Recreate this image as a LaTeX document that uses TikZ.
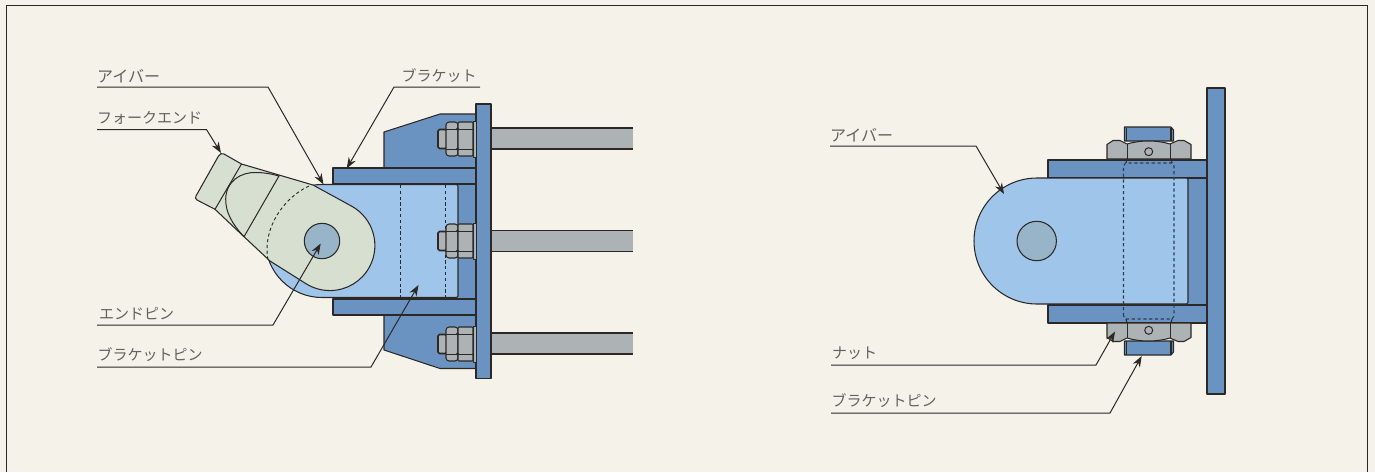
\documentclass[tikz,border=0pt]{standalone}
\usepackage{fontspec}
\newfontfamily\jpf{Noto Sans CJK JP}
\usetikzlibrary{arrows.meta}
\definecolor{bgc}{HTML}{F5F2EA}
\definecolor{ink}{HTML}{2B2826}
\definecolor{bracketc}{HTML}{6B93C2}
\definecolor{eyec}{HTML}{9FC5EA}
\definecolor{forkc}{HTML}{D7DFD0}
\definecolor{steelc}{HTML}{ADB3B5}
\definecolor{pinc}{HTML}{97B4C8}
\definecolor{txtc}{HTML}{65625D}
\definecolor{hidc}{HTML}{2E3C52}
\tikzset{
  part/.style={draw=ink,line width=1.05pt,line join=round},
  blue part/.style={part,fill=bracketc},
  eye part/.style={part,fill=eyec},
  fork part/.style={part,fill=forkc},
  steel part/.style={part,fill=steelc},
  pin part/.style={part,fill=pinc},
  thin part/.style={draw=ink,line width=1pt},
  hidden/.style={draw=ink,line width=.9pt,dash pattern=on 3.2pt off 2.6pt},
  lbl/.style={font=\jpf\fontsize{15}{15}\selectfont,text=txtc,inner sep=0pt,anchor=south west},
  lblw/.style={lbl,font=\jpf\fontsize{16}{16}\selectfont},
  lead/.style={draw=ink,line width=1pt,-{Stealth[length=11pt,width=8pt]}},
  boltL/.pic={
    \path[steel part,rounded corners=1.5pt,line width=1.6pt] (438,-9.5) rectangle (447,9.5);
    \path[steel part,rounded corners=3pt] (446,-17) rectangle (458,17);
    \path[steel part,rounded corners=1pt] (458,-17) rectangle (473,17);
    \draw[thin part] (446,-10) -- (473,-10) (446,10) -- (473,10);
    \fill[ink] (457.5,-10) circle (1.6) (457.5,10) circle (1.6);
    \path[steel part,line width=.8pt] (473,-18) rectangle (476,18);
  },
  rodL/.pic={
    \fill[steelc] (491,-10.5) rectangle (633,10.5);
    \draw[part] (491,-10.5) -- (633,-10.5) (491,10.5) -- (633,10.5);
  },
  nutR/.pic={
    \path[blue part] (1124.5,-114) -- (1171,-114) -- (1173.5,-111) -- (1173.5,-100) -- (1124.5,-100) -- (1124.5,-111) -- cycle;
    \draw[draw=ink,line width=1.2pt] (1126.5,-113.5) -- (1126.5,-100) (1171,-113.5) -- (1171,-100);
    \path[steel part] (1107,-82) -- (1107,-96.5) -- (1113,-100.5) -- (1120,-100.5) -- (1127,-97)
      .. controls (1140,-101) and (1157,-101) .. (1170,-97) -- (1178,-100.5) -- (1184,-100.5) -- (1191,-96.5) -- (1191,-82) -- cycle;
    \draw[thin part] (1127,-97) -- (1127,-82) (1170,-97) -- (1170,-82);
    \draw[thin part] (1148.7,-89.3) circle (4);
    \draw[thin part] (1127,-82) -- (1126,-78) (1171,-82) -- (1172,-78);
  },
}
\begin{document}
\begin{tikzpicture}[x=1pt,y=-1pt]
\useasboundingbox (0,0) rectangle (1375,472);
\fill[bgc] (0,0) rectangle (1375,472);
\draw[ink,line width=1pt] (6,472) -- (6,5) -- (1367.5,5) -- (1367.5,472);

% ---- left view
\pic at (0,138.5) {rodL};
\pic at (0,241) {rodL};
\pic at (0,343.5) {rodL};
\path[blue part] (384,168) -- (384,132) -- (440,114) -- (476,114) -- (476,168) -- cycle;
\path[blue part] (384,315) -- (384,350) -- (440,368.5) -- (476,368.5) -- (476,315) -- cycle;
\path[blue part] (440,184) rectangle (476,299);
\path[blue part] (333,168) rectangle (476,184);
\path[blue part] (333,299) rectangle (476,315);
\path[eye part] (322,297.5) arc[start angle=90,end angle=270,radius=56.5]
  -- (456.5,184.5) -- (458,186) -- (458,296) -- (456.5,297.5) -- cycle;
\path[hidden] (400.5,185) -- (400.5,297) (445.5,185) -- (445.5,297);
\path[blue part] (476,104) rectangle (491,378.5);
\pic at (0,139) {boltL};
\pic at (0,241) {boltL};
\pic at (0,344) {boltL};
\path[fork part] (197,200) .. controls (195.5,199) and (195,197.5) .. (196,196) -- (218.5,156)
  .. controls (220,153.5) and (222,153) .. (224,154) -- (241.5,164) -- (313,185) -- (351.7,206.2)
  arc[start angle=-61,end angle=122,radius=45] -- (270,261) -- (244,236.7) -- (215,209.3) -- cycle;
\draw[thin part] (241.5,164) -- (215,209.3);
\draw[thin part] (244,236.7) .. controls (232,224) and (225.5,212) .. (225.7,199)
  .. controls (226,181) and (241,172) .. (256,172.5) .. controls (264,172.5) and (272,174) .. (279,176) -- cycle;
\path[hidden] (309,186) .. controls (285,197) and (262,227) .. (268,260);
\path[pin part] (322,241) circle (17.7);

% ---- right view
\path[blue part] (1048,160) rectangle (1207,178);
\path[blue part] (1048,305) rectangle (1207,323);
\path[blue part] (1180,178) rectangle (1207,305);
\path[eye part] (1037,304) arc[start angle=90,end angle=270,radius=63]
  -- (1186.5,178) -- (1188,179.5) -- (1188,302.5) -- (1186.5,304) -- cycle;
\path[pin part] (1036.7,241) circle (19.7);
\path[blue part] (1207,88) rectangle (1225,394);
\pic at (0,241) {nutR};
\pic[yscale=-1] at (0,241) {nutR};
\path[hidden,draw=hidc,line width=1.1pt] (1123.5,316) -- (1123.5,166) -- (1125.5,163) -- (1172,163) -- (1174,166) -- (1174,316) -- (1172,319) -- (1125.5,319) -- cycle;

% ---- labels and leaders
\node[lblw] (aL) at (97,83) {アイバー};
\node[lbl] (fL) at (97,125) {フォークエンド};
\node[lbl] (bL) at (401.5,83) {ブラケット};
\node[lbl] (eL) at (99,320) {エンドピン};
\node[lbl] (pL) at (97.5,362) {ブラケットピン};
\node[lblw] (aR) at (830,142) {アイバー};
\node[lbl] (nR) at (832,360) {ナット};
\node[lbl] (pR) at (831.5,408) {ブラケットピン};

\coordinate (a0) at (97,87); \coordinate (a1) at (268,87); \coordinate (a2) at (323.5,184.5);
\coordinate (f0) at (97,129.5); \coordinate (f1) at (206.5,129.5); \coordinate (f2) at (221,153);
\coordinate (b0) at (480,87); \coordinate (b1) at (394,87); \coordinate (b2) at (346.7,168.5);
\coordinate (e0) at (97,325); \coordinate (e1) at (273,325); \coordinate (e2) at (320.7,243.5);
\coordinate (p0) at (97,367); \coordinate (p1) at (371,367); \coordinate (p2) at (418.5,285);
\coordinate (c0) at (830,146); \coordinate (c1) at (976,146); \coordinate (c2) at (1004,194);
\coordinate (n0) at (831,365); \coordinate (n1) at (1096,365); \coordinate (n2) at (1115,331.5);
\coordinate (q0) at (831,413); \coordinate (q1) at (1110,413); \coordinate (q2) at (1141.7,356);
\foreach \s in {a,f,b,e,p,c,n,q}
  \draw[lead] (\s0) -- (\s1) -- (\s2);
\end{tikzpicture}
\end{document}
